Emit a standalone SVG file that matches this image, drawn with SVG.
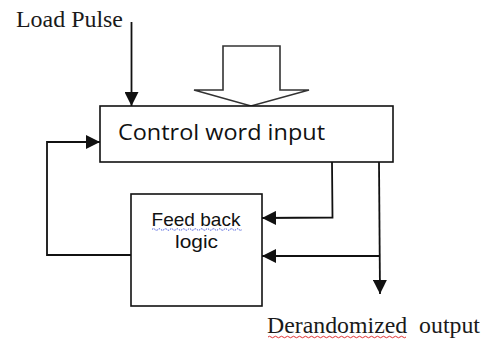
<svg xmlns="http://www.w3.org/2000/svg" width="487" height="341" viewBox="0 0 487 341">
<style>
.box{fill:#fff;stroke:#111;stroke-width:1.6}
.ln{fill:none;stroke:#111;stroke-width:1.8}
.serif{font-family:"Liberation Serif","Times New Roman",serif;font-size:23px;fill:#1a1a1a;white-space:pre}
.sans{font-family:"Open Sans","Liberation Sans",sans-serif;fill:#111}
.sans2{font-family:"Liberation Sans",Arial,sans-serif;fill:#111}
</style>
<defs>
<marker id="ah" markerUnits="userSpaceOnUse" markerWidth="14" markerHeight="14" viewBox="0 0 14 14" refX="14" refY="7" orient="auto">
<path d="M0,0 L14,7 L0,14 Z" fill="#111"/>
</marker>
</defs>
<rect width="487" height="341" fill="#fff"/>
<g id="load-pulse">
<text class="serif" x="16" y="27" textLength="107" lengthAdjust="spacingAndGlyphs">Load Pulse</text>
</g>
<g id="input-arrow">
<path d="M223,46 L280,46 L280,90 L309,90 L251,106 L194,90 L223,90 Z" fill="#fff" stroke="#333" stroke-width="1.6"/>
</g>
<g id="control-word">
<rect class="box" x="100" y="106" width="293" height="56"/>
<text class="sans" x="118" y="140" font-size="22" textLength="207" lengthAdjust="spacingAndGlyphs">Control word input</text>
</g>
<g id="feedback-logic">
<rect class="box" x="131" y="194" width="131" height="112"/>
<text class="sans2" x="196" y="226" font-size="19" text-anchor="middle" textLength="89" lengthAdjust="spacingAndGlyphs">Feed back</text>
<text class="sans2" x="196.5" y="248" font-size="19" text-anchor="middle" textLength="43" lengthAdjust="spacingAndGlyphs">logic</text>
<path d="M152,229.5 q1.5,-1.5 3,0 t3,0 t3,0 t3,0 t3,0 t3,0 t3,0 t3,0 t3,0 t3,0 t3,0 t3,0 t3,0 t3,0 t3,0 t3,0 t3,0 t3,0 t3,0 t3,0 t3,0 t3,0 t3,0 t3,0 t3,0 t3,0 t3,0 t3,0 t3,0 t3,0" fill="none" stroke="#3a4fd8" stroke-width="1" stroke-dasharray="1.5 1"/>
</g>
<g id="output-label">
<text class="serif" x="267" y="333" textLength="213" lengthAdjust="spacingAndGlyphs" xml:space="preserve">Derandomized  output</text>
<path d="M268,337 q1.5,-1.5 3,0 t3,0 t3,0 t3,0 t3,0 t3,0 t3,0 t3,0 t3,0 t3,0 t3,0 t3,0 t3,0 t3,0 t3,0 t3,0 t3,0 t3,0 t3,0 t3,0 t3,0 t3,0 t3,0 t3,0 t3,0 t3,0 t3,0 t3,0 t3,0 t3,0 t3,0 t3,0 t3,0 t3,0 t3,0 t3,0 t3,0 t3,0 t3,0 t3,0 t3,0 t3,0 t3,0 t3,0 t3,0 t3,0" fill="none" stroke="#e03030" stroke-width="1"/>
</g>
<g id="connectors">
<path class="ln" d="M131.5,22 L131.5,106" marker-end="url(#ah)"/>
<path class="ln" d="M131,255 L47,255 L47,142 L100,142" marker-end="url(#ah)"/>
<path class="ln" d="M332,162 L332.5,217.5 L262,218" marker-end="url(#ah)"/>
<path class="ln" d="M379,162 L380,294" marker-end="url(#ah)"/>
<path class="ln" d="M380,256 L262,256" stroke="#333" stroke-width="2.4" marker-end="url(#ah)"/>
</g>
</svg>
